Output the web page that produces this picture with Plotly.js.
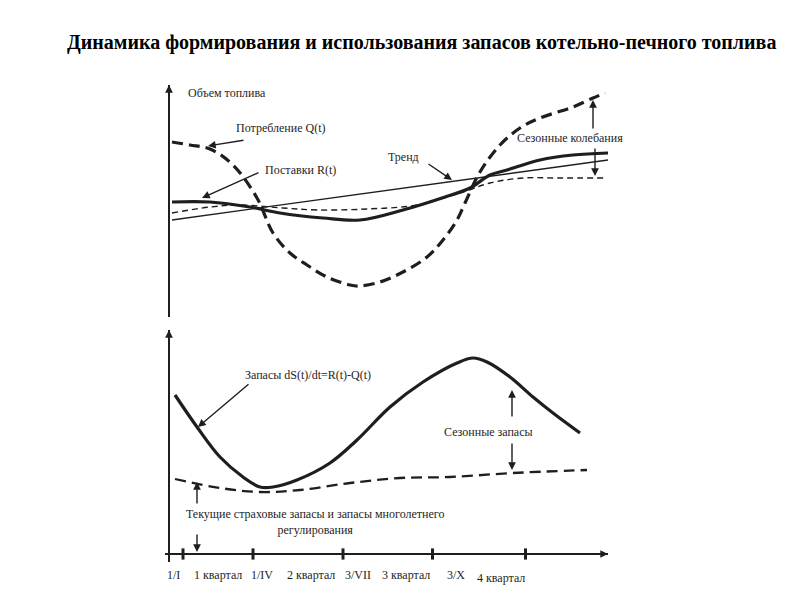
<!DOCTYPE html>
<html><head><meta charset="utf-8">
<script src="https://cdn.plot.ly/plotly-3.0.1.min.js"></script>
<style>body{margin:0;background:#fff}</style>
</head><body>
<div id="chart" style="width:800px;height:600px"></div>
<script>
// ---- Top panel: fuel volume (schematic units) ----
const qX = [3,21,41,64,88,104,121,138,158,181,191,211,234,258,274,288,296,311,331,351,371,404,424,436];
const qY = [175,172,168,152,119,84,64,52,40,32,31,35,45,60,77,97,114,145,172,189,199,210,219,224];
const rX = [3,41,81,111,154,191,234,276,301,321,338,371,404,439];
const rY = [115,115,110,104,99,97,107,120,129,142,147,157,162,164];
const trendX = [3,150,300,439];
const trendY = [97,117,138,157];
const avgX = [3,41,71,114,148,198,248,294,321,354,388,438];
const avgY = [104,110,112,109,107,108,112,125,134,139,139,139];
// ---- Bottom panel: stocks ----
const sX = [6,28,51,74,91,104,128,161,188,221,254,288,304,318,341,364,384,411];
const sY = [159,127,97,77,67,67,74,91,114,147,172,191,196,192,177,157,141,121];
const safeX = [6,51,91,131,181,231,281,344,418];
const safeY = [75,66,62,64,71,76,77,81,84];
// ---- Time axis ----
const tickVals = [14,84,174,263.5,356.5];
const labelX = [-4,23,80,116,174,211,276,306];
const labelText = ['1/I','1 квартал','1/IV','2 квартал','3/VII','3 квартал','3/X','4 квартал'];
const labelOffset = [21,21,21,21,21,21,21,24]; // distance below the time axis

const INK = '#1e1e1e';
const FONT = "'Liberation Serif', 'Times New Roman', serif";

const traces = [
  {x:qX,y:qY,xaxis:'x2',yaxis:'y',mode:'lines',line:{color:INK,width:3.2,dash:'11px,6px',shape:'spline',smoothing:1}},
  {x:rX,y:rY,xaxis:'x2',yaxis:'y',mode:'lines',line:{color:INK,width:3.2,shape:'spline',smoothing:1}},
  {x:trendX,y:trendY,xaxis:'x2',yaxis:'y',mode:'lines',line:{color:INK,width:1.3}},
  {x:avgX,y:avgY,xaxis:'x2',yaxis:'y',mode:'lines',line:{color:INK,width:1.4,dash:'6px,4px',shape:'spline',smoothing:1}},
  {x:sX,y:sY,xaxis:'x',yaxis:'y2',mode:'lines',line:{color:INK,width:3.2,shape:'spline',smoothing:1}},
  {x:safeX,y:safeY,xaxis:'x',yaxis:'y2',mode:'lines',line:{color:INK,width:2.3,dash:'11px,6px',shape:'spline',smoothing:1}},
  {x:tickVals,y:tickVals.map(()=>0),xaxis:'x',yaxis:'y2',mode:'markers',cliponaxis:false,
    marker:{symbol:'line-ns-open',size:8,color:INK,line:{color:INK,width:3}}}
];

function arrow(xref,yref,hx,hy,tx,ty){
  return {xref:xref,yref:yref,axref:xref,ayref:yref,x:hx,y:hy,ax:tx,ay:ty,text:'',showarrow:true,
    arrowhead:2,arrowsize:1.1,arrowwidth:1.4,arrowcolor:INK,standoff:0,startstandoff:0};
}
function label(xref,yref,x,y,text,xanchor){
  return {xref:xref,yref:yref,x:x,y:y,text:text,showarrow:false,xanchor:xanchor||'center',yanchor:'middle',
    font:{family:FONT,size:12,color:INK}};
}

const annotations = [
  {xref:'paper',yref:'paper',x:421/800,y:1-43/600,text:'<b>Динамика формирования и использования запасов котельно-печного топлива</b>',
    showarrow:false,xanchor:'center',yanchor:'middle',font:{family:FONT,size:20,color:'#000'}},
  label('x2','y',17,224,'Объем топлива','left'),
  label('x2','y',112,189,'Потребление Q(t)'),
  arrow('x2','y',39,171,76,177),
  label('x2','y',131,147,'Поставки R(t)'),
  arrow('x2','y',33,119,91,145),
  label('x2','y',234,160,'Тренд'),
  arrow('x2','y',283,137,258,154),
  label('x2','y',401,179,'Сезонные колебания'),
  arrow('x2','y',424,217,424,187),
  arrow('x2','y',426,141,426,170),
  label('x','y2',139,179,'Запасы dS(t)/dt=R(t)-Q(t)'),
  arrow('x','y2',29,127,81,171),
  label('x','y2',319,122,'Сезонные запасы'),
  arrow('x','y2',343,164,343,136),
  arrow('x','y2',343,84,343,112),
  label('x','y2',146,32,'Текущие страховые запасы и запасы многолетнего<br>регулирования'),
  arrow('x','y2',28,72,28,49),
  arrow('x','y2',28,2,28,21),
  // axis arrowheads
  arrow('x2','y',0,232,0,222),
  arrow('x','y2',0,224,0,214),
  arrow('x','y2',439,0,427,0)
];
// time labels: x in data units, y in paper units below the time axis line (at 554px)
labelText.forEach((t,i)=>annotations.push({xref:'x',yref:'paper',x:labelX[i],y:1-(554+labelOffset[i])/600,
  text:t,showarrow:false,xanchor:'left',yanchor:'middle',font:{family:FONT,size:12,color:INK}}));

const layout = {
  width:800,height:600,margin:{l:0,r:0,t:0,b:0},
  paper_bgcolor:'#fff',plot_bgcolor:'rgba(0,0,0,0)',showlegend:false,
  xaxis:{domain:[165/800,608/800],range:[-4,439],anchor:'free',position:1-554/600,showline:true,linecolor:INK,linewidth:2,
    showgrid:false,zeroline:false,showticklabels:false,ticks:''},
  xaxis2:{domain:[165/800,608/800],range:[-4,439],anchor:'y',showline:false,showgrid:false,zeroline:false,
    showticklabels:false,ticks:''},
  yaxis:{domain:[1-317/600,1-85/600],range:[0,232],anchor:'free',position:169/800,showline:true,linecolor:INK,linewidth:2,
    showgrid:false,zeroline:false,showticklabels:false,ticks:''},
  yaxis2:{domain:[1-562/600,1-330/600],range:[-8,224],anchor:'free',position:169/800,showline:true,linecolor:INK,linewidth:2,
    showgrid:false,zeroline:false,showticklabels:false,ticks:''},
  annotations:annotations
};
Plotly.newPlot('chart',traces,layout,{staticPlot:true});
</script>
</body></html>
